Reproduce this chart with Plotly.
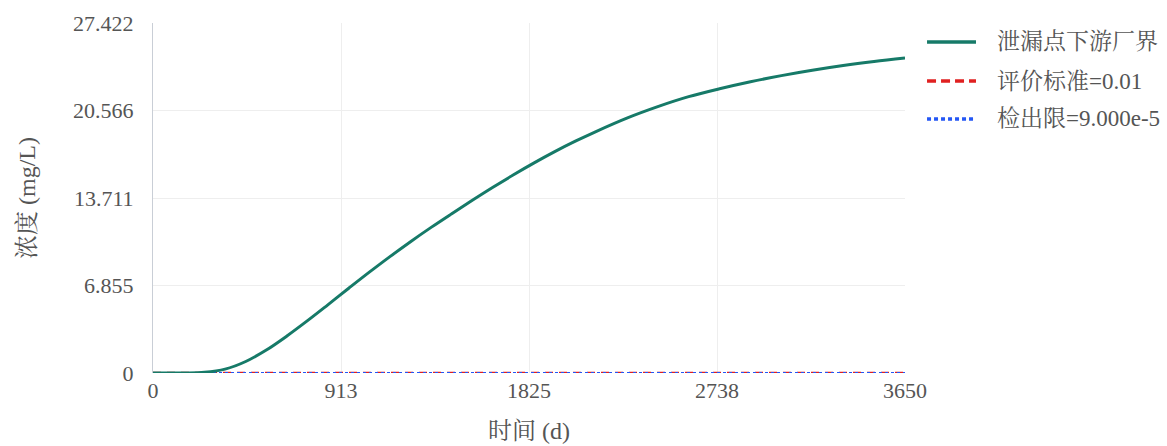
import plotly.graph_objects as go

# Breakthrough concentration at the downstream boundary (days, mg/L)
days = [0, 150, 250, 350, 450, 550, 650, 750, 850, 950, 1050, 1150, 1250,
        1350, 1450, 1550, 1650, 1750, 1850, 1950, 2050, 2150, 2300, 2450,
        2600, 2750, 2900, 3050, 3200, 3350, 3500, 3650]
conc = [0.0, 0.0, 0.05, 0.3, 0.9, 1.8, 2.9, 4.1, 5.36, 6.64, 7.9, 9.12, 10.29,
        11.41, 12.48, 13.53, 14.55, 15.53, 16.46, 17.34, 18.16, 18.92, 19.97,
        20.87, 21.65, 22.27, 22.82, 23.3, 23.72, 24.09, 24.41, 24.69]

standard_value = 0.01
detect_limit = 9.0e-5
x_span = [0, 3650]

x_ticks = [0, 913, 1825, 2738, 3650]
y_ticks = [0, 6.855, 13.711, 20.566, 27.422]
y_tick_text = ["0", "6.855", "13.711", "20.566", "27.422"]

name_curve = "泄漏点下游厂界"
name_std = "评价标准=0.01"
name_det = "检出限=9.000e-5"

green = "#167a68"
red = "#e02020"
blue = "#2457f5"
text_grey = "#555555"
font_family = "Liberation Serif, Times New Roman, Noto Serif CJK SC, Noto Sans CJK SC, serif"
tick_size = 22
title_size = 24
legend_size = 23

fig = go.Figure()

# threshold lines sit under the concentration curve
fig.add_trace(go.Scatter(
    x=x_span, y=[standard_value] * 2, mode="lines", name=name_std,
    line=dict(color=red, width=2, dash="8px,6px"),
))
fig.add_trace(go.Scatter(
    x=x_span, y=[detect_limit] * 2, mode="lines", name=name_det,
    line=dict(color=blue, width=2, dash="3px,3px"),
))
fig.add_trace(go.Scatter(
    x=days, y=conc, mode="lines", name=name_curve,
    line=dict(color=green, width=3, shape="spline", smoothing=1),
))

# hand-built legend to the right of the plot area
legend_rows = [
    (name_curve, green, "solid", 0.946),
    (name_std, red, "9px,5px", 0.834),
    (name_det, blue, "4px,3px", 0.726),
]
shapes = []
annotations = []
for label, color, dash, yp in legend_rows:
    shapes.append(dict(
        type="line", xref="paper", yref="paper",
        x0=1.0293, x1=1.0944, y0=yp, y1=yp,
        line=dict(color=color, width=3.5, dash=dash),
    ))
    annotations.append(dict(
        xref="paper", yref="paper", x=1.1197, y=yp,
        xanchor="left", yanchor="middle", showarrow=False,
        text=label, font=dict(family=font_family, size=legend_size, color=text_grey),
    ))

fig.update_layout(
    width=1167, height=446,
    margin=dict(l=153, r=262, t=23, b=73),
    paper_bgcolor="white", plot_bgcolor="white",
    font=dict(family=font_family, size=tick_size, color=text_grey),
    showlegend=False,
    shapes=shapes,
    annotations=annotations,
    xaxis=dict(
        range=[0, 3650], tickvals=x_ticks, ticktext=[str(v) for v in x_ticks],
        showgrid=True, gridcolor="#eeeeee", zeroline=False,
        showline=False, ticks="", ticklabelstandoff=2, automargin=False,
        title=dict(text="时间 (d)", standoff=20, font=dict(size=title_size)),
    ),
    yaxis=dict(
        range=[0, 27.422], tickvals=y_ticks, ticktext=y_tick_text,
        showgrid=True, gridcolor="#eeeeee", zeroline=False,
        showline=True, linecolor="#c9ced6", linewidth=1,
        ticks="", ticklabelstandoff=14, automargin=False,
        title=dict(text="浓度 (mg/L)", standoff=30, font=dict(size=title_size)),
    ),
)

fig.write_html("out.html")
